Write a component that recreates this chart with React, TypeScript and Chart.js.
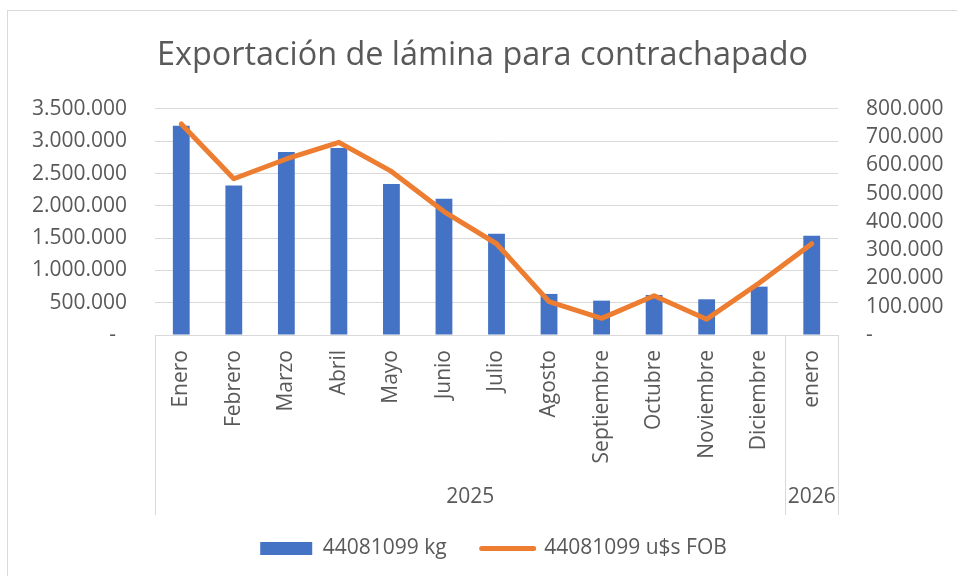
import React, { useEffect, useRef } from "react";
import { Chart, registerables } from "chart.js";

Chart.register(...registerables);

const months = [
  "Enero", "Febrero", "Marzo", "Abril", "Mayo", "Junio", "Julio",
  "Agosto", "Septiembre", "Octubre", "Noviembre", "Diciembre", "enero",
];
const yearLabels = ["2025", "2026"];
const yearCounts = [12, 1];

const kgValues = [
  3240000, 2315000, 2833000, 2895000, 2337000, 2109000, 1566000,
  636000, 532000, 620000, 553000, 749000, 1535000,
];
const usdValues = [
  747000, 553000, 623000, 682000, 579000, 437000, 323000,
  118000, 59000, 139000, 56000, 184000, 323000,
];

const kgLabel = "44081099 kg";
const usdLabel = "44081099 u$s FOB";
const titleText = "Exportación de lámina para contrachapado";

const BLUE = "#4472C4";
const ORANGE = "#ED7D31";
const TEXT = "#595959";
const GRID = "#D9D9D9";
const FONT = "'Open Sans', sans-serif";
const FS = 21;

function fmt(v: number, zeroText: string) {
  if (v === 0) return zeroText;
  return String(Math.round(v)).replace(/\B(?=(\d{3})+(?!\d))/g, ".");
}

const legendShiftPlugin = {
  id: "legendShift",
  afterLayout(chart: any) {
    const lg = chart.legend;
    if (lg) {
      lg.left += 11;
      lg.right += 11;
    }
  },
};

const groupPlugin = {
  id: "groupAxis",
  afterDraw(chart: any) {
    const { ctx, chartArea, scales } = chart;
    const x = scales.x;
    const top = chartArea.bottom;
    const bottom = top + 180;
    ctx.save();
    ctx.strokeStyle = GRID;
    ctx.lineWidth = 1;
    const bounds: number[] = [chartArea.left];
    let idx = 0;
    yearCounts.forEach((c, gi) => {
      idx += c;
      if (gi < yearCounts.length - 1) {
        bounds.push((x.getPixelForValue(idx - 1) + x.getPixelForValue(idx)) / 2);
      }
    });
    bounds.push(chartArea.right);
    bounds.forEach((bx) => {
      const px = Math.round(bx) + 0.5;
      ctx.beginPath();
      ctx.moveTo(px, top);
      ctx.lineTo(px, bottom);
      ctx.stroke();
    });
    ctx.fillStyle = TEXT;
    ctx.font = `${FS}px ${FONT}`;
    ctx.textAlign = "center";
    ctx.textBaseline = "middle";
    yearLabels.forEach((lab, i) => {
      ctx.fillText(lab, (bounds[i] + bounds[i + 1]) / 2, top + 162);
    });
    ctx.restore();
  },
};

export default function App() {
  const ref = useRef<HTMLCanvasElement>(null);
  useEffect(() => {
    if (!ref.current) return;
    const chart = new Chart(ref.current, {
      type: "bar",
      data: {
        labels: months,
        datasets: [
          {
            type: "bar",
            label: kgLabel,
            data: kgValues,
            backgroundColor: BLUE,
            borderWidth: 0,
            barPercentage: 0.32,
            categoryPercentage: 1,
            yAxisID: "y",
            order: 1,
          },
          {
            type: "line",
            label: usdLabel,
            data: usdValues,
            borderColor: ORANGE,
            backgroundColor: ORANGE,
            borderWidth: 5,
            borderCapStyle: "round",
            borderJoinStyle: "round",
            pointRadius: 0,
            tension: 0,
            yAxisID: "y1",
            order: 0,
          } as any,
        ],
      },
      options: {
        animation: false,
        responsive: false,
        layout: { padding: { left: 0, right: 0, top: 0, bottom: 7 } },
        plugins: {
          tooltip: { enabled: false },
          title: {
            display: true,
            text: titleText,
            color: TEXT,
            font: { family: FONT, size: 32.4, weight: "normal", lineHeight: 1.2 },
            padding: { top: 25, bottom: 34.1 },
          },
          legend: {
            position: "bottom",
            labels: {
              color: TEXT,
              font: { family: FONT, size: FS },
              usePointStyle: true,
              pointStyleWidth: 52,
              boxHeight: 13,
              padding: 35,
              sort: (a: any, b: any) => a.datasetIndex - b.datasetIndex,
              generateLabels: (ch: any) => {
                const items = (Chart.defaults.plugins.legend.labels as any).generateLabels(ch);
                items.forEach((it: any) => {
                  if (it.datasetIndex === 0) {
                    it.pointStyle = "rect";
                    it.lineWidth = 0;
                    it.fillStyle = BLUE;
                    it.strokeStyle = BLUE;
                  } else {
                    it.pointStyle = "line";
                    it.lineWidth = 5;
                    it.strokeStyle = ORANGE;
                    it.fillStyle = ORANGE;
                    it.lineCap = "round";
                  }
                });
                return items;
              },
            },
          },
        },
        scales: {
          x: {
            grid: { display: false, drawTicks: false },
            border: { display: true, color: GRID, width: 1 },
            ticks: {
              color: TEXT,
              font: { family: FONT, size: FS },
              minRotation: 90,
              maxRotation: 90,
              autoSkip: false,
              padding: 15,
            },
            afterFit: (s: any) => {
              s.height = 168;
            },
          },
          y: {
            position: "left",
            min: 0,
            max: 3500000,
            grid: { color: GRID, drawTicks: false },
            border: { display: false },
            ticks: {
              stepSize: 500000,
              color: TEXT,
              font: { family: FONT, size: FS },
              padding: 28,
              callback: (v: any) => fmt(Number(v), "-  "),
            },
            afterFit: (s: any) => {
              s.width = 147;
            },
          },
          y1: {
            position: "right",
            min: 0,
            max: 800000,
            grid: { display: false, drawTicks: false },
            border: { display: false },
            ticks: {
              stepSize: 100000,
              color: TEXT,
              font: { family: FONT, size: FS },
              padding: 28,
              callback: (v: any) => fmt(Number(v), "-"),
            },
            afterFit: (s: any) => {
              s.width = 119;
            },
          },
        },
      },
      plugins: [groupPlugin, legendShiftPlugin],
    } as any);
    return () => chart.destroy();
  }, []);

  return (
    <>
      <div
        style={{
          position: "fixed",
          left: 7,
          top: 10,
          width: 1000,
          height: 1000,
          borderLeft: "1px solid #D9D9D9",
          borderTop: "1px solid #D9D9D9",
        }}
      />
      <div style={{ position: "fixed", left: 8, top: 11, width: 949, height: 565 }}>
        <canvas ref={ref} width={949} height={565} style={{ display: "block" }} />
      </div>
    </>
  );
}
